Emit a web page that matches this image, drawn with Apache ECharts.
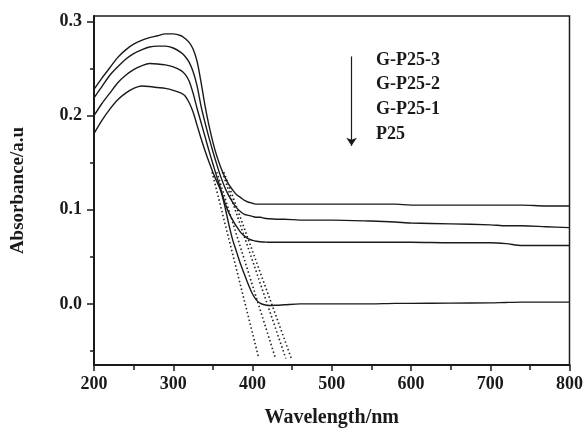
<!DOCTYPE html>
<html>
<head>
<meta charset="utf-8">
<script src="https://cdn.jsdelivr.net/npm/echarts@6/dist/echarts.min.js"></script>
<style>
html,body{margin:0;padding:0;background:#fff;}
#c{width:586px;height:433px;}
</style>
</head>
<body>
<div id="c"></div>
<script>
// ---- data ----
var wavelength = [200,210,220,230,240,250,260,270,280,290,300,310,315,320,325,330,335,340,345,350,355,360,365,370,375,380,385,390,395,400,405,410,415,420,430,440,460,500,550,580,600,650,700,720,740,770,800];
var gp25_3 = [.228,.240,.251,.262,.270,.276,.280,.283,.285,.287,.287,.285,.282,.278,.271,.258,.236,.211,.190,.172,.157,.145,.135,.127,.121,.116,.113,.110,.108,.107,.106,.106,.106,.106,.106,.106,.106,.106,.106,.106,.105,.105,.105,.105,.105,.104,.104];
var gp25_2 = [.219,.231,.243,.252,.260,.266,.270,.273,.274,.274,.272,.267,.263,.257,.247,.232,.2105,.193,.177,.162,.148,.135,.124,.115,.108,.102,.098,.095,.094,.093,.092,.092,.091,.0905,.090,.090,.089,.089,.088,.087,.086,.085,.084,.083,.083,.082,.081];
var gp25_1 = [.200,.213,.224,.235,.243,.249,.253,.2555,.255,.254,.252,.248,.244,.237,.224,.208,.193,.178,.163,.149,.135,.122,.108,.097,.089,.082,.076,.072,.069,.0675,.0665,.066,.0657,.0655,.0655,.0655,.0655,.0655,.0655,.0655,.0655,.065,.065,.064,.062,.062,.062];
var p25 = [.181,.195,.207,.217,.224,.229,.2316,.231,.230,.229,.227,.224,.221,.214,.204,.190,.176,.163,.151,.140,.130,.120,.104,.085,.068,.055,.042,.031,.020,.0105,.004,.0005,-.001,-.0018,-.0015,-.001,0,0,0,.0005,.0005,.0008,.001,.0015,.0018,.0018,.0018];
// tangent (extrapolation) lines: x at top and bottom, shared y ends
var tangentX = [[349,408],[355,429],[362,442],[364,449]];
var tangentY = [0.140,-0.058];
var seriesNames = ['G-P25-3','G-P25-2','G-P25-1','P25'];
var yLabels = [0.0,0.1,0.2,0.3];
var yTicks = [-0.05,0,0.05,0.1,0.15,0.2,0.25,0.3];
// arrow annotation (data coords)
var arrowX = 525, arrowY = [0.263, 0.168];

function pairs(ys){ return wavelength.map(function(x,i){ return [x, ys[i]]; }); }

var ink = '#1a1a1a';
var fontFam = '"Liberation Serif","Times New Roman",serif';

var series = [gp25_3, gp25_2, gp25_1, p25].map(function(ys, i){
  return {
    name: seriesNames[i], type: 'line', data: pairs(ys), showSymbol: false,
    smooth: 0.3, lineStyle: {color: ink, width: 1.4}, silent: true, z: 3
  };
});
tangentX.forEach(function(tx){
  series.push({
    type: 'line', data: [[tx[0], tangentY[0]], [tx[1], tangentY[1]]], showSymbol: false,
    lineStyle: {color: '#222', width: 1.6, type: [1.5, 2.5]}, silent: true, z: 2
  });
});
// arrow
series.push({
  type: 'line', data: [], silent: true,
  markLine: {
    silent: true, symbol: ['none', 'arrow'], symbolSize: 8,
    label: {show: false},
    lineStyle: {color: ink, width: 1.2, type: 'solid'},
    itemStyle: {color: ink},
    data: [[{coord: [arrowX, arrowY[0]]}, {coord: [arrowX, arrowY[1]]}]]
  }
});

var chart = echarts.init(document.getElementById('c'), null, {renderer: 'canvas'});
var labelX = 376, labelTop = 61, labelStep = 24.8;
chart.setOption({
  animation: false,
  backgroundColor: '#fff',
  grid: {left: 94, right: 14, top: 16, bottom: 65, show: true, borderColor: ink, borderWidth: 1.5, backgroundColor: 'transparent'},
  xAxis: {
    type: 'value', min: 200, max: 800, interval: 100,
    name: 'Wavelength/nm', nameLocation: 'middle', nameGap: 43,
    nameTextStyle: {fontFamily: fontFam, fontWeight: 'bold', fontSize: 20, color: ink},
    axisLine: {show: true, onZero: false, lineStyle: {color: ink, width: 2}},
    axisTick: {show: true, length: 6, lineStyle: {color: ink, width: 1.5}},
    minorTick: {show: true, splitNumber: 2, length: 5, lineStyle: {color: ink, width: 1.5}},
    splitLine: {show: false},
    axisLabel: {fontFamily: fontFam, fontWeight: 'bold', fontSize: 18, color: ink, margin: 10}
  },
  yAxis: [{
    type: 'value', min: -0.065, max: 0.306,
    name: 'Absorbance/a.u', nameLocation: 'middle', nameGap: 66, nameRotate: 90,
    nameTextStyle: {fontFamily: fontFam, fontWeight: 'bold', fontSize: 19, color: ink},
    axisLine: {show: true, onZero: false, lineStyle: {color: ink, width: 2}},
    axisTick: {show: true, length: 7, customValues: yLabels, lineStyle: {color: ink, width: 1.5}},
    splitLine: {show: false},
    axisLabel: {fontFamily: fontFam, fontWeight: 'bold', fontSize: 18, color: ink, margin: 12,
      customValues: yLabels, formatter: function(v){ return Math.abs(v) < 1e-9 ? '0.0' : v.toFixed(1); }}
  }, {
    type: 'value', min: -0.065, max: 0.306, position: 'left',
    axisLine: {show: false, onZero: false},
    axisTick: {show: true, length: 4, customValues: yTicks, lineStyle: {color: ink, width: 1.5}},
    axisLabel: {show: false}, splitLine: {show: false}
  }],
  series: series,
  graphic: seriesNames.map(function(n, i){
    return {
      type: 'text', left: labelX, top: labelTop + i * labelStep - 10,
      style: {text: n, fontFamily: fontFam, fontWeight: 'bold', fontSize: 18, fill: ink}
    };
  })
});
</script>
</body>
</html>
